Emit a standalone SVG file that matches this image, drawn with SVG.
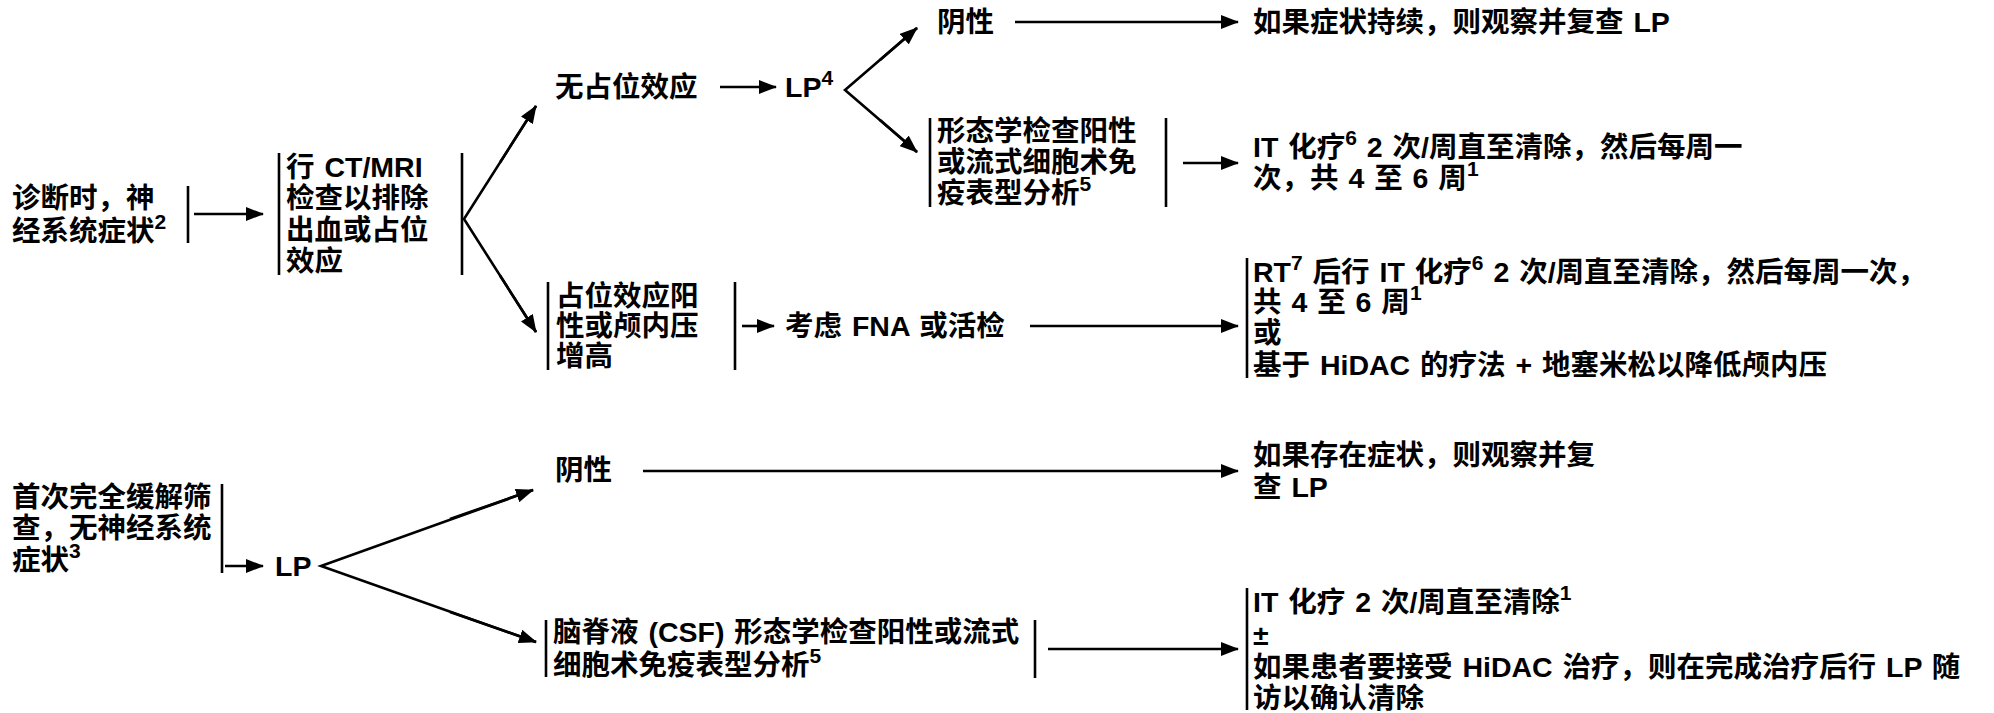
<svg xmlns="http://www.w3.org/2000/svg" width="1994" height="713" viewBox="0 0 1994 713">
<defs>
<marker id="ah" markerWidth="18" markerHeight="14" refX="17" refY="7" orient="auto" markerUnits="userSpaceOnUse">
<path d="M0,0 L18,7 L0,14 z" fill="#000"/>
</marker>
<style>
text{font-family:"Liberation Sans","Noto Sans CJK SC",sans-serif;font-weight:bold;font-size:28.5px;fill:#000;word-spacing:2px}
.sup{font-size:21px}
.bar{stroke:#000;stroke-width:2.6;fill:none}
.c{stroke:#000;stroke-width:2.6;fill:none;marker-end:url(#ah)}
.b{stroke:#000;stroke-width:2.6;fill:none}
</style>
</defs>
<rect width="1994" height="713" fill="#fff"/>

<g id="n-diag">
<text x="12" y="208">诊断时，神</text>
<text x="12" y="241">经系统症状<tspan class="sup" dy="-12">2</tspan></text>
<line class="bar" x1="188" y1="186" x2="188" y2="243"/>
</g>

<g id="n-ctmri">
<line class="bar" x1="279" y1="153" x2="279" y2="275"/>
<text x="286" y="177">行 CT/MRI</text>
<text x="286" y="208">检查以排除</text>
<text x="286" y="240">出血或占位</text>
<text x="286" y="271">效应</text>
<line class="bar" x1="462" y1="153" x2="462" y2="275"/>
</g>

<g id="n-nomass"><text x="555" y="97">无占位效应</text></g>
<g id="n-lp4"><text x="785" y="97">LP<tspan class="sup" dy="-12">4</tspan></text></g>
<g id="n-neg1"><text x="937" y="32">阴性</text></g>
<g id="n-obs1"><text x="1253" y="32">如果症状持续，则观察并复查 LP</text></g>

<g id="n-morph1">
<line class="bar" x1="930" y1="118" x2="930" y2="207"/>
<text x="937" y="141">形态学检查阳性</text>
<text x="937" y="172">或流式细胞术免</text>
<text x="937" y="203">疫表型分析<tspan class="sup" dy="-12">5</tspan></text>
<line class="bar" x1="1166" y1="118" x2="1166" y2="207"/>
</g>

<g id="n-it1">
<text x="1253" y="157">IT 化疗<tspan class="sup" dy="-12">6</tspan><tspan dy="12"> 2 次/周直至清除，然后每周一</tspan></text>
<text x="1253" y="188">次，共 4 至 6 周<tspan class="sup" dy="-12">1</tspan></text>
</g>

<g id="n-mass">
<line class="bar" x1="548" y1="282" x2="548" y2="370"/>
<text x="556" y="306">占位效应阳</text>
<text x="556" y="336">性或颅内压</text>
<text x="556" y="366">增高</text>
<line class="bar" x1="735" y1="282" x2="735" y2="370"/>
</g>

<g id="n-fna"><text x="785" y="336">考虑 FNA 或活检</text></g>

<g id="n-rt">
<line class="bar" x1="1247" y1="258" x2="1247" y2="378"/>
<text x="1253" y="282">RT<tspan class="sup" dy="-12">7</tspan><tspan dy="12"> 后行 IT 化疗</tspan><tspan class="sup" dy="-12">6</tspan><tspan dy="12"> 2 次/周直至清除，然后每周一次，</tspan></text>
<text x="1253" y="312">共 4 至 6 周<tspan class="sup" dy="-12">1</tspan></text>
<text x="1253" y="343">或</text>
<text x="1253" y="375">基于 HiDAC 的疗法 + 地塞米松以降低颅内压</text>
</g>

<g id="n-screen">
<text x="12" y="507">首次完全缓解筛</text>
<text x="12" y="538">查，无神经系统</text>
<text x="12" y="570">症状<tspan class="sup" dy="-12">3</tspan></text>
<line class="bar" x1="222" y1="484" x2="222" y2="573"/>
</g>

<g id="n-lp"><text x="275" y="576">LP</text></g>
<g id="n-neg2"><text x="555" y="480">阴性</text></g>
<g id="n-obs2">
<text x="1253" y="465">如果存在症状，则观察并复</text>
<text x="1253" y="497">查 LP</text>
</g>

<g id="n-csf">
<line class="bar" x1="546" y1="620" x2="546" y2="677"/>
<text x="553" y="642">脑脊液 (CSF) 形态学检查阳性或流式</text>
<text x="553" y="675">细胞术免疫表型分析<tspan class="sup" dy="-12">5</tspan></text>
<line class="bar" x1="1035" y1="620" x2="1035" y2="678"/>
</g>

<g id="n-it2">
<line class="bar" x1="1247" y1="588" x2="1247" y2="710"/>
<text x="1253" y="612">IT 化疗 2 次/周直至清除<tspan class="sup" dy="-12">1</tspan></text>
<text x="1253" y="645">±</text>
<text x="1253" y="677">如果患者要接受 HiDAC 治疗，则在完成治疗后行 LP 随</text>
<text x="1253" y="708">访以确认清除</text>
</g>

<g id="connectors">
<line class="c" x1="194" y1="214" x2="263" y2="214"/>
<polyline class="b" points="536,106 464,219 536,332"/>
<line class="c" x1="500" y1="162.5" x2="536" y2="106"/>
<line class="c" x1="500" y1="275.5" x2="536" y2="332"/>
<line class="c" x1="720" y1="87" x2="776" y2="87"/>
<polyline class="b" points="917,28 845,90 917,152"/>
<line class="c" x1="880" y1="60" x2="917" y2="28"/>
<line class="c" x1="880" y1="120" x2="917" y2="152"/>
<line class="c" x1="1015" y1="22" x2="1238" y2="22"/>
<line class="c" x1="1183" y1="163" x2="1238" y2="163"/>
<line class="c" x1="742" y1="326" x2="774" y2="326"/>
<line class="c" x1="1030" y1="326" x2="1238" y2="326"/>
<line class="c" x1="225" y1="566" x2="263" y2="566"/>
<polyline class="b" points="533,490 321,566 536,642"/>
<line class="c" x1="450" y1="519" x2="533" y2="490"/>
<line class="c" x1="450" y1="612" x2="536" y2="642"/>
<line class="c" x1="643" y1="471" x2="1238" y2="471"/>
<line class="c" x1="1048" y1="649" x2="1238" y2="649"/>
</g>
</svg>
